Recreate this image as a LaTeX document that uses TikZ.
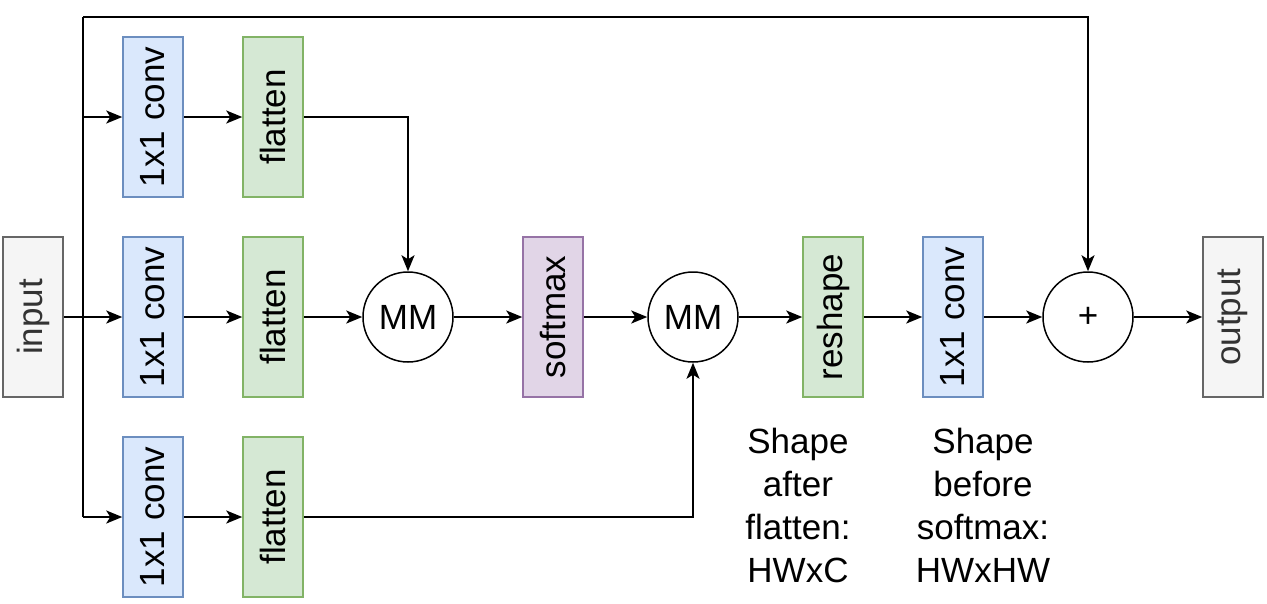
\documentclass[tikz,border=0pt]{standalone}
\usepackage{fontspec}
\setmainfont{Liberation Sans}
\usetikzlibrary{arrows.meta}
\definecolor{bluef}{HTML}{DAE8FC}\definecolor{blued}{HTML}{6C8EBF}
\definecolor{greenf}{HTML}{D5E8D4}\definecolor{greend}{HTML}{82B366}
\definecolor{purplef}{HTML}{E1D5E7}\definecolor{purpled}{HTML}{9673A6}
\definecolor{grayf}{HTML}{F5F5F5}\definecolor{grayd}{HTML}{666666}
\definecolor{grayt}{HTML}{333333}
\begin{document}
\begin{tikzpicture}[x=1pt,y=-1pt,
  every node/.style={font=\fontsize{35}{43}\selectfont},
  blk/.style={draw, line width=1.5pt, minimum width=160pt, minimum height=60pt, inner sep=0pt, rotate=90, anchor=center},
  convb/.style={blk, fill=bluef, draw=blued},
  flatb/.style={blk, fill=greenf, draw=greend},
  softb/.style={blk, fill=purplef, draw=purpled},
  iob/.style={blk, fill=grayf, draw=grayd, text=grayt},
  opc/.style={draw, circle, line width=1.5pt, minimum size=90pt, inner sep=0pt},
  arr/.style={-{Stealth[length=16pt,width=13pt,inset=4pt]}, line width=2pt},
  ln/.style={line width=2pt}]
\useasboundingbox (0,0) rectangle (1267,603);
\node[iob] (in) at (33,317) {input};
\node[convb] (c1) at (153,117) {1x1 conv};
\node[convb] (c2) at (153,317) {1x1 conv};
\node[convb] (c3) at (153,517) {1x1 conv};
\node[flatb] (f1) at (273,117) {flatten};
\node[flatb] (f2) at (273,317) {flatten};
\node[flatb] (f3) at (273,517) {flatten};
\node[opc] (mm1) at (408,317) {MM};
\node[softb] (sm) at (553,317) {softmax};
\node[opc] (mm2) at (693,317) {MM};
\node[flatb] (rs) at (833,317) {reshape};
\node[convb] (c4) at (953,317) {1x1 conv};
\node[opc] (add) at (1088,317) {+};
\node[iob] (out) at (1233,317) {output};
\coordinate (tt) at (83,17);
\coordinate (tb) at (83,517);
\node[align=center, inner sep=0pt] (t1) at (798,505) {Shape\\after\\flatten:\\HWxC};
\node[align=center, inner sep=0pt] (t2) at (983,505) {Shape\\before\\softmax:\\HWxHW};
% connectors
\draw[ln] (in.south) -- (83,317);
\draw[ln] (tt) -- (tb);
\draw[arr] (83,117) -- (c1.north);
\draw[arr] (83,317) -- (c2.north);
\draw[arr] (tb) -- (c3.north);
\draw[arr] (c1.south) -- (f1.north);
\draw[arr] (c2.south) -- (f2.north);
\draw[arr] (c3.south) -- (f3.north);
\draw[arr] (f1.south) -| (mm1.north);
\draw[arr] (f2.south) -- (mm1.west);
\draw[arr] (f3.south) -| (mm2.south);
\draw[arr] (mm1.east) -- (sm.north);
\draw[arr] (sm.south) -- (mm2.west);
\draw[arr] (mm2.east) -- (rs.north);
\draw[arr] (rs.south) -- (c4.north);
\draw[arr] (c4.south) -- (add.west);
\draw[arr] (add.east) -- (out.north);
\draw[arr] (tt) -| (add.north);
\end{tikzpicture}
\end{document}
